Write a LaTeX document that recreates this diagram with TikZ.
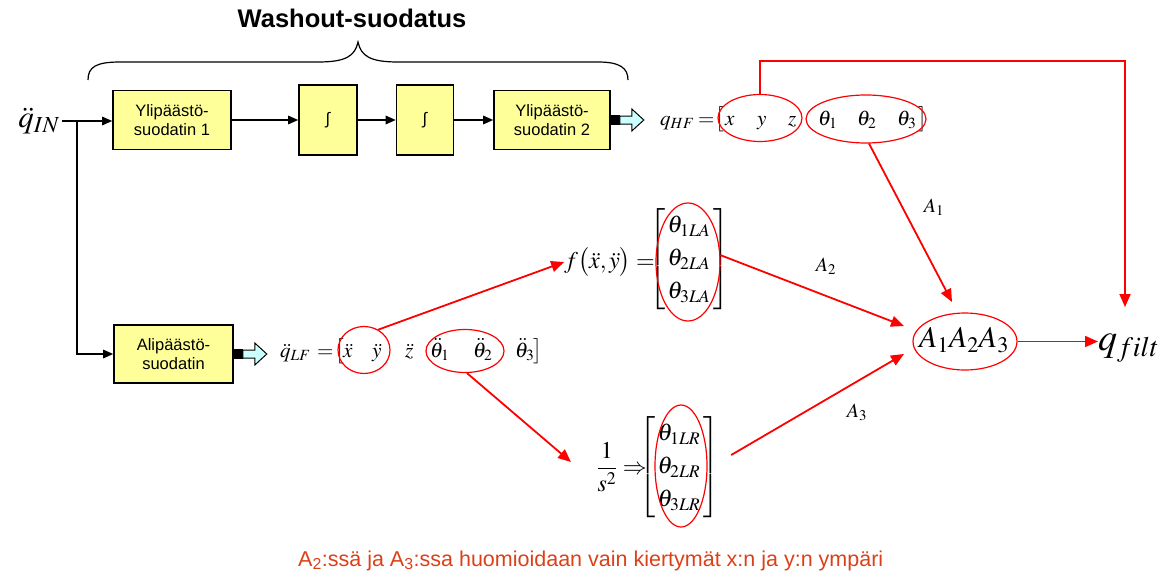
\documentclass[tikz,border=0pt]{standalone}
\usepackage{mathptmx}
\usepackage[no-math]{fontspec}
\setmainfont{Liberation Serif}
\setsansfont{Liberation Sans}
\usetikzlibrary{arrows.meta,shapes.geometric,calc}

\definecolor{boxfill}{RGB}{255,255,153}
\definecolor{fatcyan}{RGB}{204,255,255}
\definecolor{notered}{RGB}{220,64,24}

% fixed-width cell for spreading out the entries of a row vector
\newcommand{\mcell}[2]{\makebox[#1pt][l]{$#2$}}

\tikzset{
  block/.style={draw=black, line width=1.6pt, fill=boxfill, align=center,
    font=\sffamily\fontsize{16.5}{19.5}\selectfont, inner sep=0pt},
  blkarrow/.style={line width=1.4pt, -{Triangle[length=10pt,width=8.5pt]}},
  redarrow/.style={draw=red, line width=1.8pt, line join=miter,
    -{Triangle[length=13pt,width=11pt]}},
  redring/.style={ellipse, draw=red, line width=1.2pt, inner sep=0pt},
  eqn/.style={inner sep=0pt, font=\fontsize{21}{25}\selectfont},
  bigeqn/.style={inner sep=0pt, font=\fontsize{24}{33}\selectfont},
  gainlbl/.style={inner sep=0pt, font=\fontsize{20}{24}\selectfont},
  pics/fatarrow/.style={code={
    \fill[black] (0,-5) rectangle (9,5);
    \draw[line width=1pt, fill=fatcyan, line join=miter]
      (9,-4) -- (21,-4) -- (21,-11) -- (33,0) -- (21,11) -- (21,4) -- (9,4) -- cycle;
  }}
}

\begin{document}
\begin{tikzpicture}[x=1pt,y=-1pt]
\useasboundingbox (0,0) rectangle (1159,573);

% heading and brace over the washout chain
\node[font=\sffamily\bfseries\fontsize{25.5}{30}\selectfont, anchor=base, inner sep=0pt]
  (title) at (352,27) {Washout-suodatus};
\draw[line width=1.2pt] (88,80) .. controls (88,67) and (96,62) .. (120,62) -- (318,62)
  .. controls (346,62) and (355,56) .. (358,42)
  .. controls (361,56) and (370,62) .. (398,62) -- (598,62)
  .. controls (620,62) and (628,68) .. (628,80);

% filter blocks
\node[block, minimum width=118pt, minimum height=59pt] (b1) at (172,120) {Ylipäästö-\\suodatin 1};
\node[block, minimum width=58pt, minimum height=70pt] (i1) at (328,120) {∫};
\node[block, minimum width=57pt, minimum height=70pt] (i2) at (425,120) {∫};
\node[block, minimum width=116pt, minimum height=59pt] (b2) at (552,120) {Ylipäästö-\\suodatin 2};
\node[block, minimum width=119pt, minimum height=58pt] (b3) at (173.5,354) {Alipäästö-\\suodatin};

% input signal and branching
\node[font=\fontsize{31}{34}\selectfont, anchor=east, inner sep=2pt] (qin) at (62,121) {$\ddot{q}_{IN}$};
\coordinate (split) at (77,121);
\draw[blkarrow] (qin.east) -- (qin.east -| b1.west);
\draw[blkarrow] (split) |- (b3.west);
\draw[blkarrow] (b1.east) -- (i1.west);
\draw[blkarrow] (i1.east) -- (i2.west);
\draw[blkarrow] (i2.east) -- (b2.west);
\pic at (b2.east) {fatarrow};
\pic at (b3.east) {fatarrow};

% high-pass output vector
\node[eqn, anchor=base west] (qhf) at (660,125)
  {\mcell{38}{q_{HF}}\mcell{17}{=}\mcell{10}{\bigl[}\mcell{32}{x}\mcell{31}{y}\mcell{30}{z}\mcell{39}{\theta_1}\mcell{40}{\theta_2}\mcell{21}{\theta_3}$\bigr]$};
\node[redring, minimum width=84pt, minimum height=47pt] (exyz) at (760,118) {};
\node[redring, minimum width=120pt, minimum height=48pt] (eth) at (866,119) {};

% low-pass output vector
\node[eqn, anchor=base west] (qlf) at (280,357)
  {\mcell{37}{\ddot{q}_{LF}}\mcell{18}{=}\mcell{8}{\bigl[}\mcell{29}{\ddot{x}}\mcell{33}{\ddot{y}}\mcell{25}{\ddot{z}}\mcell{43}{\ddot{\theta}_1}\mcell{42}{\ddot{\theta}_2}\mcell{18}{\ddot{\theta}_3}$\bigr]$};
\node[redring, minimum width=52pt, minimum height=47pt] (exy) at (364,350) {};
\node[redring, minimum width=78pt, minimum height=43pt] (eth12) at (465,351) {};

% tilt coordination angles
\node[bigeqn, anchor=east] (fx) at (655,262) {$f\bigl(\ddot{x},\ddot{y}\bigr)=$};
\node[bigeqn] (mla) at (689,259)
  {$\left[\begin{array}{@{\,}c@{\,}}\theta_{1LA}\\\theta_{2LA}\\\theta_{3LA}\end{array}\right]$};
\node[redring, minimum width=64pt, minimum height=118pt] (ela) at (688,262) {};

% double integration of the low-frequency rotations
\node[bigeqn, anchor=east] (sfrac) at (647,467) {${\displaystyle\frac{1}{s^2}}\Rightarrow$};
\node[bigeqn] (mlr) at (679,467)
  {$\left[\begin{array}{@{\,}c@{\,}}\theta_{1LR}\\\theta_{2LR}\\\theta_{3LR}\end{array}\right]$};
\node[redring, minimum width=52pt, minimum height=122pt] (elr) at (681,466) {};

% combination and filtered output
\node[redring, minimum width=104pt, minimum height=57pt] (eprod) at (965,341.5) {};
\node[inner sep=0pt, font=\fontsize{30}{34}\selectfont] (prod) at (964,340) {$A_1A_2A_3$};
\node[inner sep=0pt, font=\fontsize{38}{42}\selectfont, anchor=base west] (qfilt) at (1098,350) {$q_{filt}$};

\node[gainlbl] (la1) at (934,207) {$A_1$};
\node[gainlbl] (la2) at (826,266) {$A_2$};
\node[gainlbl] (la3) at (857,412) {$A_3$};

% red signal paths
\coordinate (turn) at (1125,61);
\coordinate (qtop) at (1125,307);
\coordinate (a1tip) at (952,302);
\coordinate (a2tip) at (904,326);
\coordinate (a3tip) at (904,354);
\coordinate (lrtip) at (571,462);

\draw[redarrow] (exyz.north) |- (turn) -- (qtop);
\draw[redarrow] (eth.-83) -- (a1tip);
\draw[redarrow] (ela.12) -- (a2tip);
\draw[redarrow] ([shift={(12,-12)}]mlr.east) -- (a3tip);
\draw[redarrow] (eprod.east) -- (eprod.east -| qfilt.west);
\draw[redarrow] (exy.55) -- (fx.west);
\draw[redarrow] (eth12.-85) -- (lrtip);

% footnote
\node[font=\sffamily\fontsize{21.5}{25}\selectfont, text=notered, anchor=base west, inner sep=0pt]
  (note) at (298,566) {A\textsubscript{2}:ssä ja A\textsubscript{3}:ssa huomioidaan vain kiertymät x:n ja y:n ympäri};
\end{tikzpicture}
\end{document}
